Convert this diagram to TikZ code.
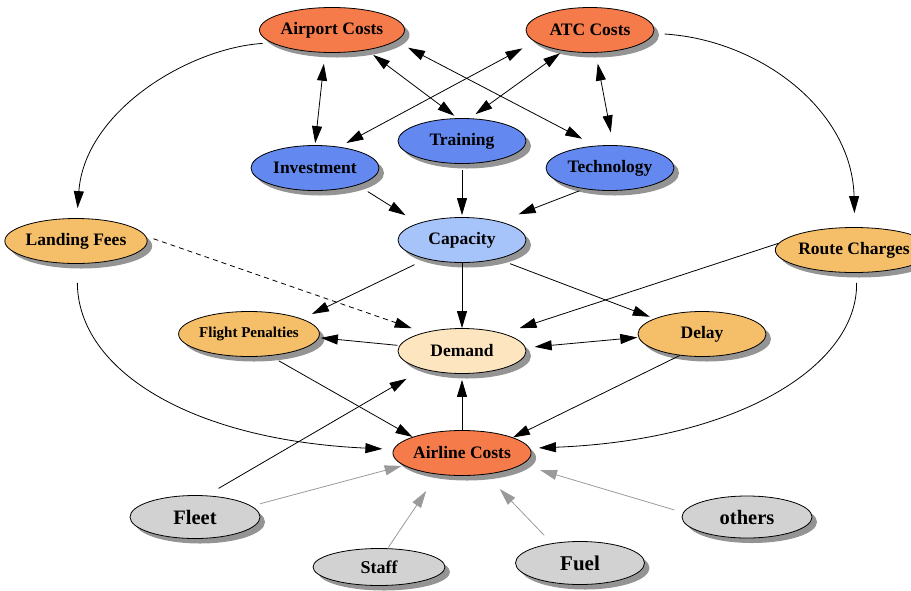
\documentclass[tikz,border=0pt]{standalone}
\usepackage{fontspec}
\setmainfont{Liberation Serif}
\usetikzlibrary{shapes.geometric,arrows.meta,shadows}

\definecolor{costred}{HTML}{F57B4B}
\definecolor{leverblue}{HTML}{6389F0}
\definecolor{capblue}{HTML}{A7C4FA}
\definecolor{feeorange}{HTML}{F5BE69}
\definecolor{demandcream}{HTML}{FDE5C0}
\definecolor{inputgray}{HTML}{D2D2D2}
\definecolor{faintline}{HTML}{9A9A9A}

\tikzset{
  nd/.style={ellipse, draw=black, line width=0.8pt, minimum width=128pt,
    minimum height=45pt, inner sep=0pt,
    font=\fontsize{17.5}{18}\selectfont\bfseries,
    drop shadow={shadow xshift=5pt, shadow yshift=-5pt, fill=black!42, opacity=1}},
  tip/.tip={Triangle[length=17pt,width=10pt]},
  e/.style={line width=0.8pt, -tip},
  ee/.style={line width=0.8pt, tip-tip},
  ge/.style={line width=0.8pt, draw=faintline, -{Triangle[length=17pt,width=10pt,color=faintline]}},
}

\begin{document}
\begin{tikzpicture}[x=1pt,y=-1pt]
\useasboundingbox (0,0) rectangle (911,590);

% cost centres
\node[nd, fill=costred] (ap) at (332,30) {Airport Costs};
\node[nd, fill=costred] (atc) at (590,30) {ATC Costs};
% levers
\node[nd, fill=leverblue] (inv) at (315,168) {Investment};
\node[nd, fill=leverblue] (tr) at (462,141) {Training};
\node[nd, fill=leverblue] (tech) at (610,168) {Technology};
\node[nd, fill=capblue] (cap) at (462,240) {Capacity};
% charges and effects
\node[nd, fill=feeorange] (lf) at (76,241) {Landing Fees};
\node[nd, fill=feeorange, font=\fontsize{17.5}{18}\selectfont\bfseries] (rc) at (854,250) {Route Charges};
\node[nd, fill=feeorange, font=\fontsize{15}{16}\selectfont\bfseries] (fp) at (249,334) {Flight Penalties};
\node[nd, fill=demandcream] (dem) at (462,351) {Demand};
\node[nd, fill=feeorange] (del) at (702,334) {Delay};
\node[nd, fill=costred] (ac) at (462,453) {Airline Costs};
% cost inputs
\node[nd, fill=inputgray, minimum width=130pt, minimum height=43pt, font=\fontsize{20.5}{21}\selectfont\bfseries] (fl) at (195,517) {Fleet};
\node[nd, fill=inputgray, minimum width=132pt, minimum height=37pt, font=\fontsize{18}{19}\selectfont\bfseries] (st) at (379,567) {Staff};
\node[nd, fill=inputgray, minimum width=129pt, minimum height=43pt, font=\fontsize{21}{22}\selectfont\bfseries] (fu) at (580,563) {Fuel};
\node[nd, fill=inputgray, minimum width=130pt, minimum height=42pt, font=\fontsize{20.5}{21}\selectfont\bfseries] (ot) at (747,517) {others};

% cost centres <-> levers
\draw[ee, shorten <=11pt, shorten >=2pt] (ap.-107) -- (inv.90);
\draw[ee, shorten <=8pt, shorten >=4pt] (ap.-30) -- (tr.101);
\draw[ee, shorten <=14pt, shorten >=15pt] (ap.-10) -- (tech.123);
\draw[ee, shorten <=14pt, shorten >=8pt] (atc.192) -- (inv.41);
\draw[ee, shorten <=4pt, shorten >=7pt] (atc.-142) -- (tr.71);
\draw[ee, shorten <=11pt, shorten >=13pt] (atc.-76) -- (tech.82);

% charges passed on
\draw[e, shorten <=9pt, shorten >=10pt] (ap.-168) .. controls (190,48) and (85,110) .. (lf.88);
\draw[e, shorten <=11pt, shorten >=14pt] (atc.-3) .. controls (760,40) and (852,110) .. (rc.88);

% levers -> capacity
\draw[e, shorten <=12pt, shorten >=15pt] (inv.-22) -- (cap.159);
\draw[e, shorten <=6pt, shorten >=2pt] (tr.-90) -- (cap.90);
\draw[e, shorten <=5pt, shorten >=20pt] (tech.-141) -- (cap.26);

% middle layer
\draw[e, dashed, dash pattern=on 5pt off 4pt, shorten <=8pt, shorten >=13pt] (lf.4) -- (dem.154);
\draw[e, shorten <=13pt, shorten >=11pt] (cap.-152) -- (fp.16);
\draw[e] (cap.-90) -- (dem.90);
\draw[e, shorten <=13pt, shorten >=5pt] (cap.-28) -- (del.162);
\draw[e, shorten >=17pt] (rc.175) -- (dem.23);
\draw[e, shorten <=2pt, shorten >=2pt] (dem.175) -- (fp.-3);
\draw[ee, shorten <=9pt, shorten >=1pt] (dem.3) -- (del.183);

% into and out of airline costs
\draw[e, shorten >=6pt] (ac.90) -- (dem.-90);
\draw[e, shorten <=14pt, shorten >=19pt] (fl.62) -- (dem.-155);
\draw[e, shorten <=10pt] (fp.-46) -- (ac.162);
\draw[e] (del.-136) -- (ac.17);
\draw[e, shorten <=19pt, shorten >=11pt] (lf.-87) .. controls (78,370) and (190,440) .. (ac.177);
\draw[e, shorten <=10pt, shorten >=9pt] (rc.-84) .. controls (858,365) and (740,440) .. (ac.4);

% cost inputs
\draw[ge, shorten <=9pt, shorten >=2pt] (fl.11) -- (ac.-168);
\draw[ge, shorten <=1pt, shorten >=20pt] (st.65) -- (ac.-139);
\draw[ge, shorten <=11pt, shorten >=20pt] (fu.145) -- (ac.-42);
\draw[ge, shorten <=9pt, shorten >=19pt] (ot.176) -- (ac.-11);
\end{tikzpicture}
\end{document}
